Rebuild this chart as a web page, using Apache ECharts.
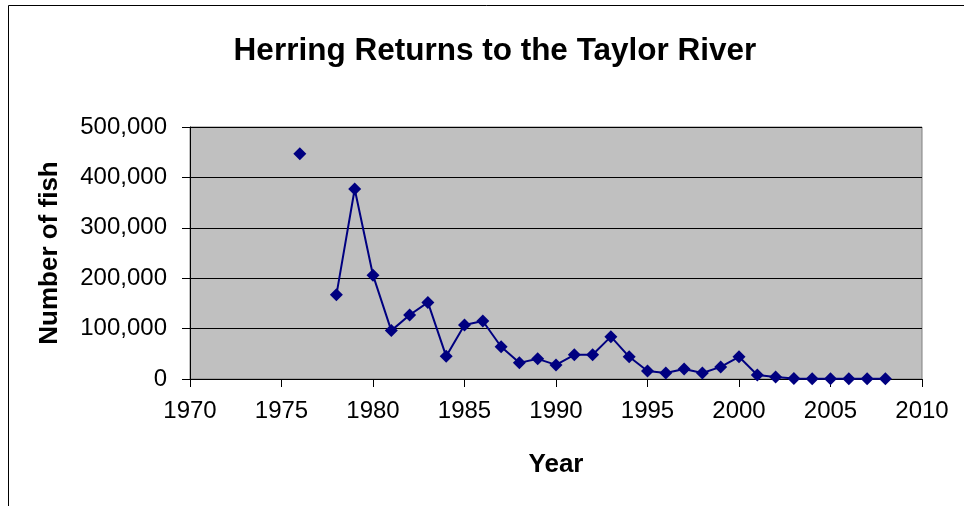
<!DOCTYPE html>
<html><head><meta charset="utf-8">
<script src="https://cdn.jsdelivr.net/npm/echarts@6/dist/echarts.min.js"></script>
<style>html,body{margin:0;padding:0;background:#fff}#c{width:964px;height:506px}</style>
</head><body><div id="c"></div>
<script>
var years = [1976,1977,1978,1979,1980,1981,1982,1983,1984,1985,1986,1987,1988,1989,1990,1991,1992,1993,1994,1995,1996,1997,1998,1999,2000,2001,2002,2003,2004,2005,2006,2007,2008];
var fish  = [447000,null,167000,377000,206000,96000,127000,152000,45000,107000,115000,64000,32000,40000,28000,48000,48000,84000,44000,16000,12000,20000,12000,24000,44000,8000,4000,1000,500,300,300,300,300];
var titleText = 'Herring Returns to the Taylor River';
var xName = 'Year', yName = 'Number of fish';

var chart = echarts.init(document.getElementById('c'));
var FONT = '"Liberation Sans", Arial, sans-serif';
chart.setOption({
  animation:false,
  backgroundColor:'#fff',
  title:{text:titleText,left:490,top:30,textAlign:'center',
    textStyle:{fontFamily:FONT,fontSize:31.5,fontWeight:'bold',color:'#000'}},
  graphic:[{type:'rect',shape:{x:8.5,y:5.5,width:970,height:520},
    style:{fill:'none',stroke:'#000',lineWidth:1},silent:true}],
  grid:{left:190,top:127,right:42,bottom:127,show:true,backgroundColor:'#c0c0c0',borderColor:'#808080',borderWidth:1},
  xAxis:{type:'value',min:1970,max:2010,interval:5,
    name:xName,nameLocation:'middle',nameGap:73,
    nameTextStyle:{fontFamily:FONT,fontSize:26,fontWeight:'bold',color:'#000'},
    axisLine:{lineStyle:{color:'#000',width:1}},
    axisTick:{show:true,length:8,lineStyle:{color:'#000'}},
    splitLine:{show:false},
    axisLabel:{fontFamily:FONT,fontSize:24,color:'#000',margin:20,
      formatter:function(v){return String(v);}}},
  yAxis:{type:'value',min:0,max:500000,interval:100000,
    name:yName,nameLocation:'middle',nameGap:127,
    nameTextStyle:{fontFamily:FONT,fontSize:26,fontWeight:'bold',color:'#000'},
    axisLine:{show:true,lineStyle:{color:'#000',width:1}},
    axisTick:{show:true,length:8,lineStyle:{color:'#000'}},
    splitLine:{show:true,lineStyle:{color:'#000',width:1}},
    axisLabel:{fontFamily:FONT,fontSize:24,color:'#000',margin:23,
      formatter:function(v){return v.toLocaleString('en-US');}}},
  series:[{type:'line',data:years.map(function(y,i){return [y,fish[i]];}),
    symbol:'diamond',symbolSize:13,connectNulls:false,
    lineStyle:{color:'#000080',width:2},
    itemStyle:{color:'#000080'}}]
});
</script></body></html>
